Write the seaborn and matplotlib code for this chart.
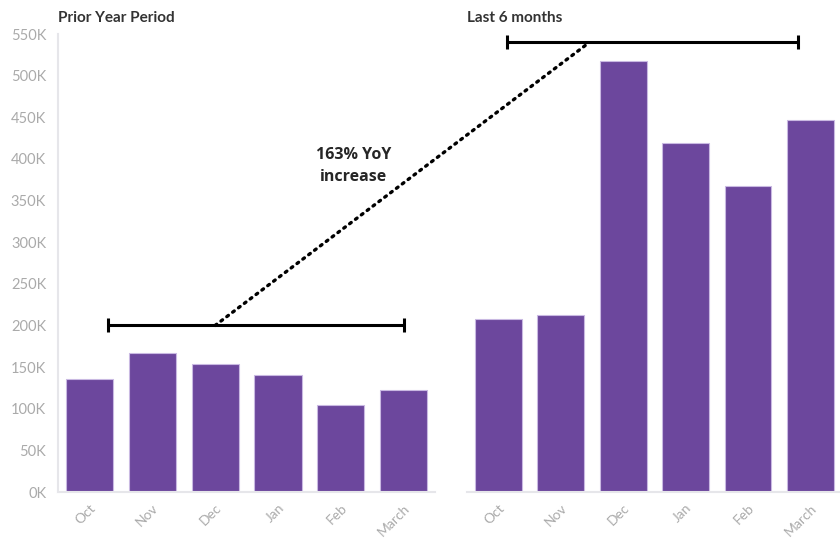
import matplotlib
matplotlib.use('Agg')
import matplotlib.pyplot as plt
import seaborn as sns
from matplotlib.patches import ConnectionPatch
from matplotlib.ticker import FuncFormatter

# Data
months = ['Oct', 'Nov', 'Dec', 'Jan', 'Feb', 'March']
prior_year = [136000, 167000, 154000, 141000, 104000, 123000]
last_6_months = [207500, 212000, 518000, 419500, 367000, 447000]
y_ticks = list(range(0, 550001, 50000))
annotation = '163% YoY\nincrease'

bar_color = '#6c479d'
grey = '#aaaaaa'
spine_grey = '#e6e6ea'

sns.set_style('white')
plt.rcParams['font.family'] = ['Lato', 'DejaVu Sans']

fig = plt.figure(figsize=(8.4, 5.38), dpi=100)
ax1 = fig.add_axes([0.069, 0.0855, 0.449, 0.8513])
ax2 = fig.add_axes([0.556, 0.0855, 0.446, 0.8513], sharey=ax1)

for ax, vals, title in [(ax1, prior_year, 'Prior Year Period'),
                        (ax2, last_6_months, 'Last 6 months')]:
    sns.barplot(x=months, y=vals, ax=ax, color=bar_color, saturation=1,
                width=0.75, edgecolor='#c9b9e2', linewidth=0.8)
    ax.set_xlim(-0.5, 5.5)
    ax.set_ylim(0, 550000)
    sns.despine(ax=ax, top=True, right=True)
    ax.spines['bottom'].set_color(spine_grey)
    ax.spines['left'].set_color(spine_grey)
    ax.spines['bottom'].set_linewidth(1.5)
    ax.spines['left'].set_linewidth(1.5)
    ax.tick_params(axis='both', colors=spine_grey, labelcolor=grey,
                   length=5, width=1, labelsize=10.5)
    ax.tick_params(axis='x', labelsize=10, pad=2)
    plt.setp(ax.get_xticklabels(), rotation=45, ha='right',
             rotation_mode='anchor')
    ax.set_title(title, loc='left', fontsize=11, fontweight='bold',
                 color='#333333', pad=9)

ax1.set_yticks(y_ticks)
ax1.yaxis.set_major_formatter(FuncFormatter(lambda v, p: f'{int(v / 1000)}K'))
ax2.spines['left'].set_visible(False)
ax2.tick_params(axis='y', left=False, labelleft=False)

# Period brackets
ax1.errorbar(x=2.65, y=200000, xerr=2.35, color='black', lw=2.2,
             capsize=5, capthick=2.2)
ax2.errorbar(x=2.47, y=540000, xerr=2.33, color='black', lw=2.2,
             capsize=5, capthick=2.2)

# Dotted connector between brackets
con = ConnectionPatch(xyA=(2.0, 200000), coordsA=ax1.transData,
                      xyB=(1.46, 540000), coordsB=ax2.transData,
                      color='black', lw=2.4, linestyle=(0, (0.6, 1.6)),
                      capstyle='round')
fig.add_artist(con)

ax1.text(4.2, 392000, annotation, ha='center', va='center', fontsize=11.5,
         fontweight='bold', family=['Open Sans', 'DejaVu Sans'],
         linespacing=1.5)

fig.savefig('out.png', dpi=100)
